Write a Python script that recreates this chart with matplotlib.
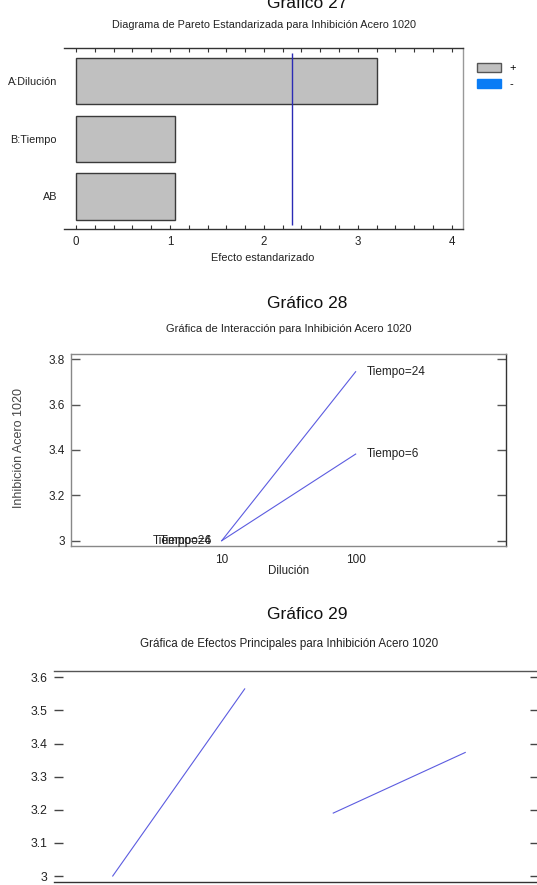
import matplotlib
matplotlib.use("Agg")
import matplotlib.pyplot as plt
from matplotlib.patches import Patch
from matplotlib.ticker import FixedLocator, NullLocator, MultipleLocator, FixedFormatter

plt.rcParams['font.family'] = ['Liberation Sans', 'DejaVu Sans']

# ---------------- data ----------------
pareto_terms = ['A:Dilución', 'B:Tiempo', 'AB']
pareto_effects = [3.20, 1.05, 1.05]
critical_value = 2.30

dilucion_levels = [10, 100]
interaccion_t6 = [3.0, 3.382]
interaccion_t24 = [3.0, 3.745]
tiempo_labels = ['Tiempo=6', 'Tiempo=24']

main_dilucion = [3.0, 3.565]
main_tiempo = [3.19, 3.373]

# ---------------- layout helpers ----------------
W, H = 537, 885
fig = plt.figure(figsize=(W / 100, H / 100), dpi=100)


def rect(l, t, r, b):
    return [l / W, 1 - b / H, (r - l) / W, (b - t) / H]


def ftext(x, y, s, **kw):
    fig.text(x / W, 1 - y / H, s, **kw)


TXT = '#222222'
LINE = '#5c5ce0'

# ================= Gráfico 27 : Pareto =================
ftext(307, 8, 'Gráfico 27', ha='center', va='baseline', fontsize=12.5, color='#111111')
ftext(264, 24.5, 'Diagrama de Pareto Estandarizada para Inhibición Acero 1020',
      ha='center', va='center', fontsize=7.8, color=TXT)

ax1 = fig.add_axes(rect(64, 48, 463, 229))
ypos = list(range(len(pareto_terms)))
ax1.barh(ypos, pareto_effects, height=0.8, color='#c0c0c0', edgecolor='#3a3a3a', linewidth=1.0)
ax1.vlines(critical_value, -0.5, 2.5, color='#2b2bb5', linewidth=1.0)
ax1.set_xlim(-0.128, 4.12)
ax1.set_ylim(2.565, -0.58)
ax1.set_yticks(ypos)
ax1.set_yticklabels(pareto_terms)
ax1.xaxis.set_major_locator(FixedLocator([0, 1, 2, 3, 4]))
ax1.xaxis.set_minor_locator(MultipleLocator(0.2))
ax1.tick_params(axis='y', length=0, pad=5, labelsize=7.8, labelcolor=TXT)
ax1.tick_params(axis='x', which='both', direction='in', top=True, bottom=True,
                length=3, width=0.8, color='#333333', labelsize=8.3, labelcolor=TXT, pad=5)
ax1.spines['left'].set_visible(False)
ax1.spines['top'].set_color('#333333')
ax1.spines['bottom'].set_color('#333333')
ax1.spines['right'].set_color('#999999')
for s in ax1.spines.values():
    s.set_linewidth(1.0)
ftext(263, 258, 'Efecto estandarizado', ha='center', va='center', fontsize=7.8, color=TXT)

handles = [Patch(facecolor='#c0c0c0', edgecolor='#555555', linewidth=1.0),
           Patch(facecolor='#0a7cf5', edgecolor='#0a7cf5')]
fig.legend(handles=handles, labels=['+', '-'], loc='upper left',
           bbox_to_anchor=(477 / W, 1 - 63 / H), frameon=False, fontsize=8,
           handlelength=2.2, handleheight=0.8, labelspacing=0.55, handletextpad=0.7,
           borderaxespad=0, borderpad=0)

# ================= Gráfico 28 : Interacción =================
ftext(307, 307.7, 'Gráfico 28', ha='center', va='baseline', fontsize=12.5, color='#111111')
ftext(288.5, 329, 'Gráfica de Interacción para Inhibición Acero 1020',
      ha='center', va='center', fontsize=8, color=TXT)

ax2 = fig.add_axes(rect(71, 354, 505.7, 545.7))
ax2.set_xscale('log')
ax2.plot(dilucion_levels, interaccion_t24, color=LINE, linewidth=0.8)
ax2.plot(dilucion_levels, interaccion_t6, color=LINE, linewidth=0.8)
for lab, ys in zip(tiempo_labels, [interaccion_t6, interaccion_t24]):
    ax2.annotate(lab, (dilucion_levels[0], ys[0]), xytext=(-7, 0), textcoords='offset points',
                 ha='right', va='center', fontsize=8.5, color=TXT)
    ax2.annotate(lab, (dilucion_levels[1], ys[1]), xytext=(8, 0), textcoords='offset points',
                 ha='left', va='center', fontsize=8.5, color=TXT)
ax2.set_xlim(0.75, 1318)
ax2.set_ylim(2.978, 3.823)
ax2.xaxis.set_major_locator(FixedLocator(dilucion_levels))
ax2.xaxis.set_major_formatter(FixedFormatter([str(v) for v in dilucion_levels]))
ax2.xaxis.set_minor_locator(NullLocator())
ax2.set_yticks([3.0, 3.2, 3.4, 3.6, 3.8])
ax2.set_yticklabels(['3', '3.2', '3.4', '3.6', '3.8'])
ax2.tick_params(axis='x', length=0, pad=6, labelsize=8.5, labelcolor=TXT)
ax2.tick_params(axis='y', direction='in', left=True, right=True, length=6.5, width=1.0,
                color='#555555', labelsize=8.5, labelcolor=TXT, pad=4.5)
for k in ['left', 'top', 'bottom']:
    ax2.spines[k].set_color('#888888')
ax2.spines['right'].set_color('#333333')
for s in ax2.spines.values():
    s.set_linewidth(1.0)
ftext(289, 571, 'Dilución', ha='center', va='center', fontsize=8.3, color=TXT)
ftext(19, 448, 'Inhibición Acero 1020', ha='center', va='center', rotation=90,
      fontsize=9, color='#444444')

# ================= Gráfico 29 : Efectos principales =================
ftext(307, 619, 'Gráfico 29', ha='center', va='baseline', fontsize=12.5, color='#111111')
ftext(289, 644, 'Gráfica de Efectos Principales para Inhibición Acero 1020',
      ha='center', va='center', fontsize=8.4, color=TXT)

ax3 = fig.add_axes(rect(54, 671, 539, 882.3))
factor_gap = 0.671
ax3.plot([0, 1], main_dilucion, color=LINE, linewidth=0.8)
ax3.plot([1 + factor_gap, 2 + factor_gap], main_tiempo, color=LINE, linewidth=0.8)
ax3.set_xlim(-0.445, 3.23)
ax3.set_ylim(2.981, 3.619)
ax3.set_yticks([3.0, 3.1, 3.2, 3.3, 3.4, 3.5, 3.6])
ax3.set_yticklabels(['3', '3.1', '3.2', '3.3', '3.4', '3.5', '3.6'])
ax3.set_xticks([])
ax3.tick_params(axis='y', direction='in', left=True, right=True, length=6.5, width=1.0,
                color='#444444', labelsize=8.8, labelcolor=TXT, pad=5)
ax3.spines['left'].set_visible(False)
ax3.spines['top'].set_color('#555555')
ax3.spines['bottom'].set_color('#333333')
ax3.spines['right'].set_color('#333333')
for s in ax3.spines.values():
    s.set_linewidth(1.0)
ftext(3, 776, 'Inhibición Acero 1020', ha='right', va='center', rotation=90,
      fontsize=9, fontweight='bold', color='#222222')

fig.savefig('out.png', dpi=100)
